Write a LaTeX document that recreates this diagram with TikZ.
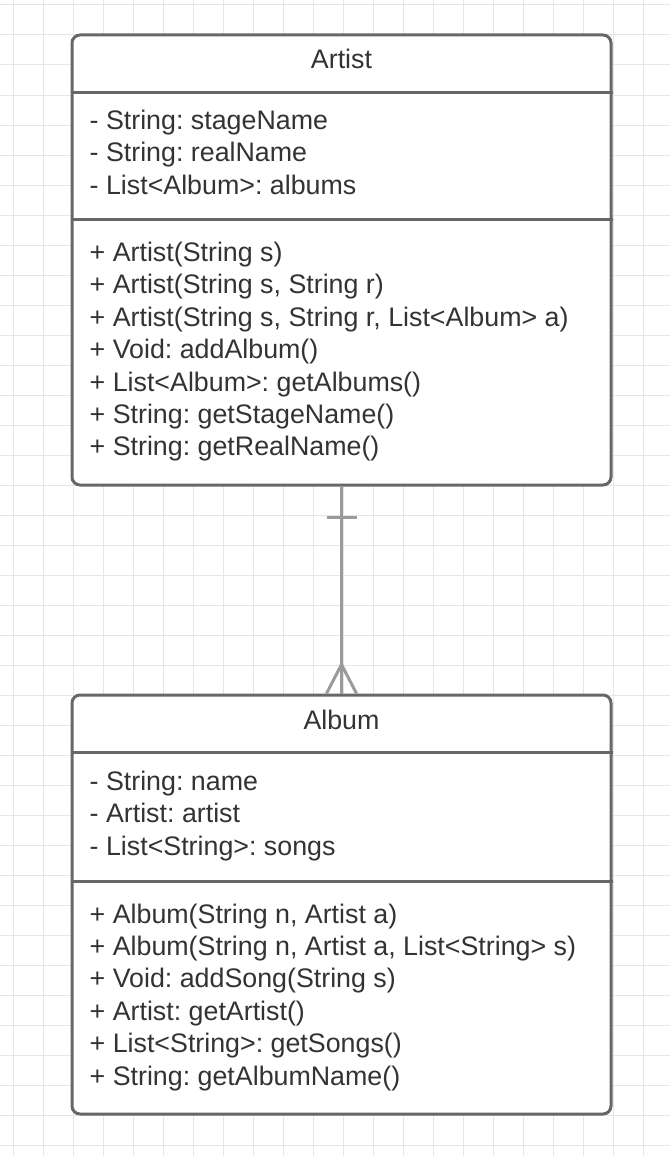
\documentclass[tikz,border=0pt]{standalone}
\usepackage{fontspec}
\setmainfont{Liberation Sans}
\usepackage{tikz}
\usetikzlibrary{positioning}
\frenchspacing
\definecolor{boxline}{HTML}{676767}
\definecolor{linkline}{HTML}{9A9A9A}
\definecolor{umltext}{HTML}{333333}
\definecolor{gridline}{HTML}{E6E6E6}
\tikzstyle{classbox} = [rectangle, rounded corners=8pt, minimum width=539pt, draw=boxline, line width=3pt, fill=white, inner sep=0pt]
\tikzstyle{classname} = [font=\fontsize{26.8}{32}\selectfont, text=umltext, inner sep=0pt, anchor=base]
\tikzstyle{member} = [font=\fontsize{26.8}{32}\selectfont, text=umltext, inner sep=0pt, anchor=base west]
\tikzstyle{divider} = [draw=boxline, line width=3pt]
\tikzstyle{link} = [draw=linkline, line width=3pt]
\tikzstyle{grid} = [draw=gridline, line width=1pt]

\begin{document}
\begin{tikzpicture}[x=1pt, y=-1pt]
  \useasboundingbox (0,0) rectangle (670,1156);
  \fill[white] (0,0) rectangle (670,1156);
  % background grid
  \foreach \gx in {13,43,...,643}
    \draw[grid] (\gx,0) -- (\gx,1156);
  \foreach \gy in {5,35,...,1145}
    \draw[grid] (0,\gy) -- (670,\gy);

  % Artist class
  \node (artist) [classbox, minimum height=450pt] at (341.5,260) {};
  \draw[divider] (artist.west |- 0,92) -- (artist.east |- 0,92);
  \draw[divider] (artist.west |- 0,219) -- (artist.east |- 0,219);
  \node (artist name) [classname] at (341.5,68.5) {Artist};
  \foreach \txt [count=\i from 0] in {{- String: stageName},
    {- String: realName},
    {- List<Album>: albums}}
    \node (artist attr\i) [member] at (89.5,129+32.5*\i) {\txt};
  \foreach \txt [count=\i from 0] in {{+ Artist(String s)},
    {+ Artist(String s, String r)},
    {+ Artist(String s, String r, List<Album> a)},
    {+ Void: addAlbum()},
    {+ List<Album>: getAlbums()},
    {+ String: getStageName()},
    {+ String: getRealName()}}
    \node (artist op\i) [member] at (89.5,261.5+32.4*\i) {\txt};

  % Album class
  \node (album) [classbox, minimum height=419pt] at (341.5,904.5) {};
  \draw[divider] (album.west |- 0,752) -- (album.east |- 0,752);
  \draw[divider] (album.west |- 0,881) -- (album.east |- 0,881);
  \node (album name) [classname] at (341.5,729.5) {Album};
  \foreach \txt [count=\i from 0] in {{- String: name},
    {- Artist: artist},
    {- List<String>: songs}}
    \node (album attr\i) [member] at (89.5,790+32.5*\i) {\txt};
  \foreach \txt [count=\i from 0] in {{+ Album(String n, Artist a)},
    {+ Album(String n, Artist a, List<String> s)},
    {+ Void: addSong(String s)},
    {+ Artist: getArtist()},
    {+ List<String>: getSongs()},
    {+ String: getAlbumName()}}
    \node (album op\i) [member] at (89.5,923+32.4*\i) {\txt};

  % one artist -- many albums
  \draw[link] (artist.south) -- (album.north);
  \draw[link] ([xshift=-15pt,yshift=-31pt]artist.south) -- ([xshift=15pt,yshift=-31pt]artist.south);
  \draw[link] ([xshift=-15pt]album.north) -- ([yshift=29pt]album.north) -- ([xshift=15pt]album.north);
\end{tikzpicture}
\end{document}
